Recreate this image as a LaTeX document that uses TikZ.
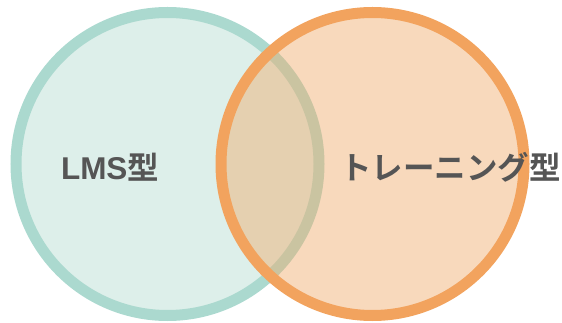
\documentclass[tikz,border=0pt]{standalone}
\usepackage{fontspec}
\newfontfamily\jpfont{Noto Sans CJK JP}[BoldFont={Noto Sans CJK JP Bold}]
\newfontfamily\latfont{Liberation Sans}
\definecolor{tealline}{HTML}{ABD9CF}
\definecolor{tealfill}{HTML}{DDEFEA}
\definecolor{orangeline}{HTML}{F2A35E}
\definecolor{orangefill}{HTML}{F0AB6B}
\definecolor{labelgray}{HTML}{555555}
\tikzstyle{lmsring}=[circle,draw=tealline,fill=tealfill,
                     line width=11pt,inner sep=0pt,minimum size=303pt]
\tikzstyle{trainring}=[circle,draw=orangeline,fill=orangefill,fill opacity=0.45,
                       draw opacity=1,line width=11pt,inner sep=0pt,minimum size=303pt]
\tikzstyle{setlabel}=[anchor=base,text=labelgray,inner sep=0pt,
                      font=\jpfont\bfseries\fontsize{31.5pt}{31.5pt}\selectfont]

\begin{document}
\begin{tikzpicture}[x=1pt,y=-1pt]
    \useasboundingbox (0,0) rectangle (562,323);
    \node (lms) at (167.5,164) [lmsring]{};
    \node (train) at (372.5,164) [trainring]{};
    \node (lmstext) at (110,180) [setlabel]{{\latfont\bfseries LMS}型};
    \node (traintext) at (450.5,180) [setlabel]{トレーニング型};
  \end{tikzpicture}
\end{document}
